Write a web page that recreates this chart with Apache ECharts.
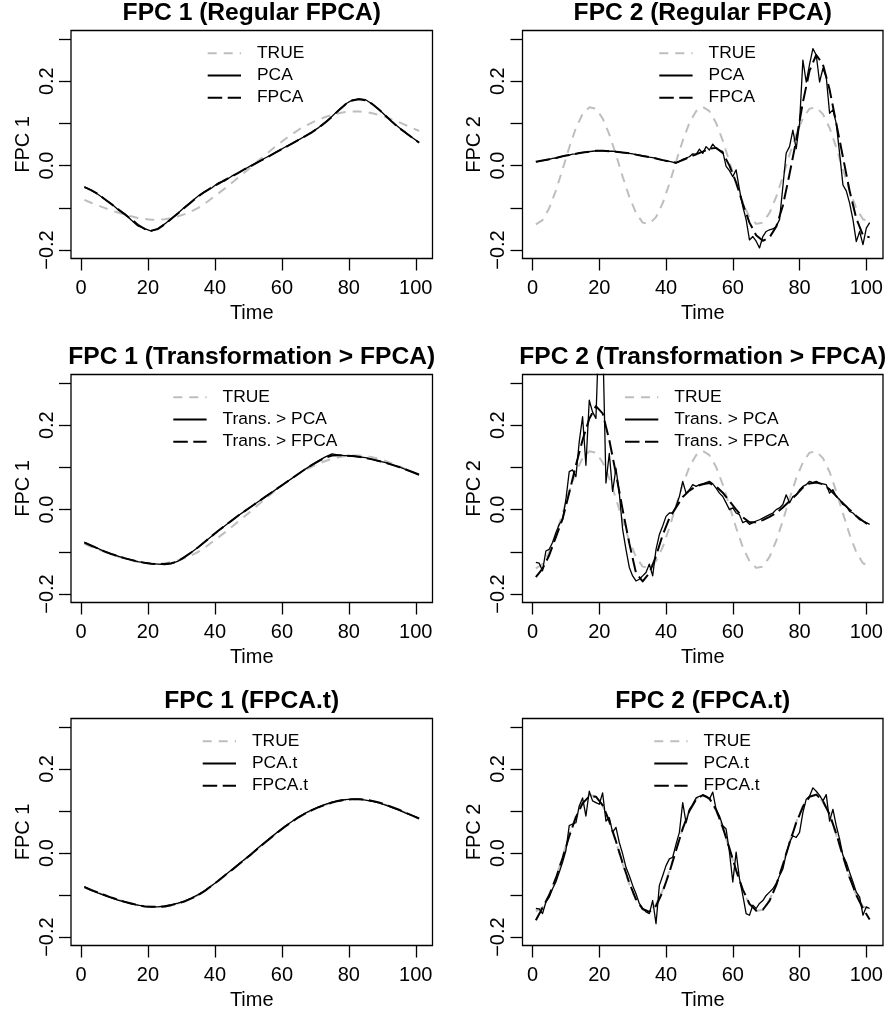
<!DOCTYPE html>
<html><head><meta charset="utf-8">
<script src="https://cdn.jsdelivr.net/npm/echarts@6/dist/echarts.min.js"></script>
<style>html,body{margin:0;padding:0;background:#fff}#c{width:890px;height:1011px}</style>
</head><body><div id="c"></div>
<script>
// ---------- time grids (sampling positions, t = 1..101) ----------
const TIME_ALL = []; for (let t = 1; t <= 101; t++) TIME_ALL.push(t);
const TIME_ODD = TIME_ALL.filter(t => t % 2 === 1);

// ---------- data ----------
// true eigenfunctions (odd t)
const TRUE1 = [-0.081,-0.088,-0.094,-0.100,-0.106,-0.111,-0.116,-0.120,-0.124,-0.126,-0.128,-0.128,-0.127,-0.124,-0.120,-0.115,-0.108,-0.100,-0.090,-0.078,-0.066,-0.054,-0.041,-0.028,-0.015,-0.002,0.012,0.025,0.038,0.051,0.063,0.074,0.085,0.094,0.102,0.109,0.115,0.120,0.124,0.127,0.128,0.128,0.127,0.124,0.120,0.115,0.109,0.103,0.096,0.089,0.082];
const TRUE2 = [-0.139,-0.129,-0.101,-0.059,-0.009,0.043,0.089,0.122,0.138,0.135,0.112,0.074,0.026,-0.026,-0.074,-0.112,-0.135,-0.138,-0.122,-0.089,-0.043,0.009,0.059,0.101,0.129,0.139,0.129,0.101,0.059,0.009,-0.043,-0.089,-0.122,-0.138,-0.135,-0.112,-0.074,-0.026,0.026,0.074,0.112,0.135,0.138,0.122,0.089,0.043,-0.009,-0.059,-0.101,-0.127,-0.134];

// Panel 1: FPC 1 (Regular FPCA)  (odd t)
const REG_PCA1  = [-0.050,-0.058,-0.068,-0.079,-0.090,-0.104,-0.114,-0.129,-0.143,-0.149,-0.155,-0.149,-0.138,-0.125,-0.112,-0.098,-0.085,-0.072,-0.061,-0.053,-0.041,-0.036,-0.025,-0.017,-0.008,0.001,0.009,0.018,0.026,0.035,0.044,0.052,0.061,0.070,0.080,0.090,0.103,0.117,0.132,0.146,0.155,0.158,0.156,0.146,0.133,0.118,0.103,0.090,0.077,0.066,0.055];
const REG_FPCA1 = [-0.051,-0.058,-0.067,-0.079,-0.091,-0.103,-0.115,-0.127,-0.140,-0.150,-0.154,-0.150,-0.139,-0.126,-0.113,-0.099,-0.086,-0.073,-0.062,-0.052,-0.043,-0.034,-0.026,-0.017,-0.008,0.000,0.009,0.017,0.026,0.035,0.043,0.052,0.061,0.070,0.079,0.090,0.102,0.116,0.131,0.145,0.154,0.157,0.155,0.146,0.133,0.118,0.103,0.089,0.078,0.066,0.054];

// Panel 2: FPC 2 (Regular FPCA)  (PCA: all t, FPCA: odd t)
const REG_PCA2 = [0.009,0.010,0.012,0.013,0.015,0.017,0.018,0.020,0.022,0.024,
  0.025,0.027,0.028,0.030,0.031,0.032,0.033,0.034,0.035,0.035,
  0.035,0.035,0.034,0.034,0.033,0.032,0.031,0.030,0.029,0.028,
  0.026,0.025,0.023,0.022,0.020,0.019,0.017,0.015,0.013,0.011,
  0.010,0.008,0.006,0.010,0.015,0.018,0.021,0.028,0.026,0.039,
  0.029,0.045,0.037,0.051,0.041,0.037,0.033,-0.002,-0.012,-0.026,
  -0.010,-0.057,-0.097,-0.128,-0.176,-0.168,-0.179,-0.195,-0.168,-0.156,
  -0.152,-0.150,-0.144,-0.128,-0.050,0.030,0.045,0.084,0.040,0.100,
  0.250,0.198,0.240,0.277,0.262,0.198,0.230,0.210,0.124,0.132,
  0.100,0.029,-0.046,-0.060,-0.089,-0.128,-0.180,-0.156,-0.187,-0.148,-0.135];
const REG_FPCA2 = [0.009,0.012,0.015,0.018,0.022,0.025,0.028,0.031,0.033,0.035,0.035,0.034,0.033,0.031,0.029,0.026,0.023,0.020,0.017,0.013,0.010,0.007,0.013,0.020,0.027,0.033,0.040,0.042,0.030,0.000,-0.040,-0.090,-0.135,-0.165,-0.178,-0.170,-0.145,-0.095,-0.020,0.060,0.150,0.225,0.262,0.240,0.180,0.100,0.020,-0.060,-0.125,-0.165,-0.170];

// Panel 3: FPC 1 (Transformation > FPCA)  (odd t)
const TR_PCA1  = [-0.077,-0.085,-0.092,-0.099,-0.105,-0.110,-0.115,-0.119,-0.123,-0.126,-0.128,-0.129,-0.130,-0.128,-0.122,-0.112,-0.101,-0.089,-0.076,-0.063,-0.050,-0.038,-0.026,-0.014,-0.003,0.008,0.019,0.030,0.041,0.052,0.063,0.074,0.085,0.096,0.106,0.116,0.125,0.132,0.129,0.128,0.127,0.125,0.123,0.119,0.115,0.111,0.106,0.101,0.095,0.089,0.082];
const TR_FPCA1 = [-0.078,-0.085,-0.092,-0.099,-0.105,-0.110,-0.115,-0.119,-0.123,-0.126,-0.128,-0.129,-0.129,-0.127,-0.122,-0.112,-0.101,-0.089,-0.076,-0.063,-0.050,-0.038,-0.026,-0.014,-0.003,0.008,0.019,0.030,0.041,0.052,0.063,0.074,0.085,0.096,0.106,0.115,0.123,0.128,0.129,0.128,0.127,0.125,0.122,0.119,0.115,0.111,0.106,0.101,0.095,0.089,0.083];

// Panel 4: FPC 2 (Transformation > FPCA)  (PCA: all t, FPCA: odd t)
const TR_PCA2 = [-0.125,-0.127,-0.145,-0.098,-0.094,-0.078,-0.055,-0.035,-0.024,0.024,
  0.090,0.094,0.078,0.161,0.220,0.105,0.259,0.231,0.216,0.450,
  0.420,0.063,0.133,0.043,0.098,0.039,-0.047,-0.094,-0.137,-0.157,
  -0.169,-0.165,-0.157,-0.149,-0.129,-0.157,-0.094,-0.059,-0.039,-0.016,
  -0.008,-0.008,0.008,0.031,0.067,0.039,0.047,0.059,0.055,0.059,
  0.061,0.064,0.067,0.061,0.051,0.039,0.031,0.016,0.000,0.004,
  -0.008,-0.012,-0.031,-0.027,-0.035,-0.031,-0.027,-0.024,-0.020,-0.016,
  -0.012,-0.008,0.000,0.004,0.012,0.035,0.016,0.031,0.035,0.047,
  0.055,0.059,0.067,0.064,0.067,0.063,0.061,0.059,0.039,0.047,
  0.031,0.024,0.012,0.008,-0.004,-0.008,-0.016,-0.024,-0.027,-0.031,-0.035];
const TR_FPCA2 = [-0.160,-0.140,-0.108,-0.065,-0.022,0.040,0.105,0.165,0.215,0.245,0.228,0.165,0.085,0.000,-0.080,-0.150,-0.170,-0.150,-0.110,-0.060,-0.020,0.005,0.030,0.045,0.055,0.060,0.063,0.055,0.040,0.020,0.000,-0.018,-0.030,-0.030,-0.025,-0.017,-0.008,0.005,0.020,0.035,0.052,0.062,0.064,0.060,0.048,0.032,0.015,0.000,-0.015,-0.027,-0.038];

// Panel 5: FPC 1 (FPCA.t)  (odd t)
const T_PCA1  = [-0.080,-0.088,-0.095,-0.101,-0.106,-0.112,-0.116,-0.121,-0.124,-0.127,-0.128,-0.128,-0.126,-0.123,-0.119,-0.114,-0.107,-0.099,-0.089,-0.078,-0.066,-0.053,-0.040,-0.027,-0.014,-0.001,0.013,0.026,0.039,0.052,0.064,0.075,0.086,0.095,0.103,0.110,0.116,0.121,0.125,0.127,0.128,0.128,0.126,0.123,0.119,0.114,0.108,0.102,0.095,0.089,0.083];
const T_FPCA1 = [-0.081,-0.088,-0.094,-0.100,-0.106,-0.111,-0.116,-0.120,-0.124,-0.127,-0.128,-0.128,-0.127,-0.124,-0.120,-0.115,-0.108,-0.100,-0.090,-0.078,-0.066,-0.053,-0.041,-0.028,-0.015,-0.002,0.012,0.025,0.038,0.051,0.063,0.074,0.085,0.094,0.102,0.109,0.115,0.120,0.124,0.127,0.128,0.128,0.127,0.124,0.120,0.115,0.109,0.103,0.096,0.089,0.082];

// Panel 6: FPC 2 (FPCA.t)  (PCA.t: all t, FPCA.t: odd t)
const T_PCA2 = [-0.132,-0.133,-0.144,-0.117,-0.105,-0.085,-0.069,-0.046,-0.022,0.006,
  0.065,0.069,0.072,0.112,0.131,0.088,0.147,0.124,0.120,0.116,
  0.143,0.076,0.084,0.049,0.061,0.025,-0.002,-0.034,-0.054,-0.077,
  -0.097,-0.120,-0.132,-0.140,-0.144,-0.113,-0.168,-0.077,-0.054,-0.030,
  -0.014,-0.010,0.021,0.049,0.120,0.072,0.104,0.116,0.131,0.135,
  0.137,0.135,0.128,0.145,0.104,0.088,0.065,0.057,0.002,-0.069,
  0.002,-0.061,-0.101,-0.144,-0.148,-0.124,-0.132,-0.120,-0.113,-0.101,
  -0.093,-0.085,-0.073,-0.054,-0.038,-0.002,0.025,0.041,0.037,0.049,
  0.096,0.128,0.135,0.155,0.147,0.137,0.124,0.139,0.076,0.104,
  0.065,0.033,-0.006,-0.022,-0.046,-0.069,-0.093,-0.105,-0.148,-0.128,-0.132];
const T_FPCA2 = [-0.160,-0.130,-0.100,-0.060,-0.012,0.040,0.085,0.118,0.135,0.134,0.114,0.076,0.028,-0.024,-0.071,-0.110,-0.133,-0.140,-0.126,-0.092,-0.046,0.006,0.058,0.100,0.127,0.138,0.130,0.103,0.061,0.011,-0.041,-0.087,-0.121,-0.137,-0.135,-0.114,-0.077,-0.028,0.024,0.072,0.110,0.134,0.139,0.124,0.092,0.046,-0.007,-0.058,-0.100,-0.132,-0.158];

// ---------- axes / labels ----------
const X_TICKS = [0, 20, 40, 60, 80, 100];
const Y_TICKS = [-0.2, -0.1, 0, 0.1, 0.2, 0.3];
const Y_LABELS = [-0.2, 0, 0.2];
const X_RANGE = [-3, 105];
const Y_RANGE = [-0.22, 0.32];
const X_NAME = 'Time';
const TITLES = ['FPC 1 (Regular FPCA)', 'FPC 2 (Regular FPCA)',
  'FPC 1 (Transformation > FPCA)', 'FPC 2 (Transformation > FPCA)',
  'FPC 1 (FPCA.t)', 'FPC 2 (FPCA.t)'];
const Y_NAMES = ['FPC 1', 'FPC 2', 'FPC 1', 'FPC 2', 'FPC 1', 'FPC 2'];
const LEG_REG = ['TRUE', 'PCA', 'FPCA'];
const LEG_TR = ['TRUE', 'Trans. > PCA', 'Trans. > FPCA'];
const LEG_T = ['TRUE', 'PCA.t', 'FPCA.t'];

// ---------- panel composition ----------
const PANELS = [
  { legend: LEG_REG, lines: [[TIME_ODD, TRUE1], [TIME_ODD, REG_PCA1], [TIME_ODD, REG_FPCA1]] },
  { legend: LEG_REG, lines: [[TIME_ODD, TRUE2], [TIME_ALL, REG_PCA2], [TIME_ODD, REG_FPCA2]] },
  { legend: LEG_TR,  lines: [[TIME_ODD, TRUE1], [TIME_ODD, TR_PCA1],  [TIME_ODD, TR_FPCA1]] },
  { legend: LEG_TR,  lines: [[TIME_ODD, TRUE2], [TIME_ALL, TR_PCA2],  [TIME_ODD, TR_FPCA2]] },
  { legend: LEG_T,   lines: [[TIME_ODD, TRUE1], [TIME_ODD, T_PCA1],   [TIME_ODD, T_FPCA1]] },
  { legend: LEG_T,   lines: [[TIME_ODD, TRUE2], [TIME_ALL, T_PCA2],   [TIME_ODD, T_FPCA2]] }
];

// ---------- layout & style ----------
const FONT = '"Liberation Sans", Arial, Helvetica, sans-serif';
const COLS = [{ left: 71, width: 361.5 }, { left: 522.5, width: 360.5 }];
const ROW_TOPS = [30.5, 374.5, 718.5];
const BOX_H = 228;
const LEG_POS = [[206.7, 0], [658.3, 0], [172.3, 1], [624, 1], [201.7, 2], [653.3, 2]];
const STYLES = [
  { color: '#bebebe', width: 2, type: [9, 7] },
  { color: '#000000', width: 1.3, type: 'solid' },
  { color: '#000000', width: 2, type: [14.5, 5.5] }
];
const fmtY = v => (v < 0 ? '\u2212' : '') + Math.abs(v).toFixed(1);

const grids = [], xAxes = [], yAxes = [], titles = [], legends = [], series = [];
PANELS.forEach((p, i) => {
  const col = COLS[i % 2], top = ROW_TOPS[Math.floor(i / 2)];
  grids.push({ left: col.left, top: top, width: col.width, height: BOX_H, show: true,
    borderColor: '#000', borderWidth: 1.3, backgroundColor: 'transparent' });
  xAxes.push({ type: 'value', gridIndex: i, min: X_RANGE[0], max: X_RANGE[1], position: 'bottom',
    axisLine: { show: false, onZero: false }, splitLine: { show: false },
    axisTick: { show: true, length: 12, customValues: X_TICKS, lineStyle: { color: '#000', width: 1.3 } },
    axisLabel: { customValues: X_TICKS, color: '#000', fontSize: 20, fontFamily: FONT, margin: 19.5 },
    name: X_NAME, nameLocation: 'middle', nameGap: 44.5,
    nameTextStyle: { color: '#000', fontSize: 20, fontFamily: FONT } });
  yAxes.push({ type: 'value', gridIndex: i, min: Y_RANGE[0], max: Y_RANGE[1], position: 'left',
    axisLine: { show: false, onZero: false }, splitLine: { show: false },
    axisTick: { show: true, length: 12, customValues: Y_TICKS, lineStyle: { color: '#000', width: 1.3 } },
    axisLabel: { customValues: Y_LABELS, rotate: 90, color: '#000', fontSize: 20, fontFamily: FONT, margin: 14, formatter: fmtY },
    name: Y_NAMES[i], nameLocation: 'middle', nameRotate: 90, nameGap: 38,
    nameTextStyle: { color: '#000', fontSize: 20, fontFamily: FONT } });
  titles.push({ text: TITLES[i], left: col.left + col.width / 2, textAlign: 'center',
    top: top - 30, padding: 0,
    textStyle: { color: '#000', fontSize: 24.6, fontWeight: 'bold', fontFamily: FONT } });
  const lp = LEG_POS[i];
  legends.push({ data: p.legend, orient: 'vertical', left: lp[0], top: ROW_TOPS[lp[1]] + 13.8,
    padding: 0, itemWidth: 33.3, itemHeight: 14, itemGap: 4.2, selectedMode: false,
    itemStyle: { opacity: 0, color: 'transparent', borderColor: 'transparent', borderWidth: 0 },
    textStyle: { color: '#000', fontSize: 17.4, fontFamily: FONT, lineHeight: 18, padding: [0, 0, 0, 11] } });
  p.lines.forEach((ln, k) => {
    const st = STYLES[k];
    series.push({ type: 'line', name: p.legend[k], xAxisIndex: i, yAxisIndex: i,
      data: ln[0].map((t, j) => [t, ln[1][j]]),
      symbol: 'none', showSymbol: false, smooth: false, clip: true, z: 2 + k,
      lineStyle: { color: st.color, width: st.width, type: st.type, join: 'round' },
      itemStyle: { color: st.color }, emphasis: { disabled: true }, animation: false });
  });
});

const chart = echarts.init(document.getElementById('c'), null, { renderer: 'canvas' });
chart.setOption({ backgroundColor: '#fff', animation: false,
  title: titles, legend: legends, grid: grids, xAxis: xAxes, yAxis: yAxes, series: series });
</script></body></html>
